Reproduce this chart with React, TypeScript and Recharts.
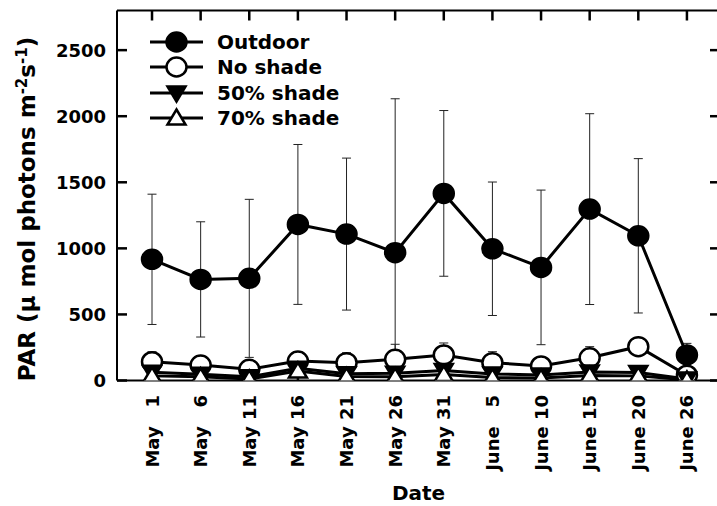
import { LineChart, Line, XAxis, YAxis, ErrorBar, Legend, ReferenceLine } from "recharts";

const dates = [
  "May 1", "May 6", "May 11", "May 16", "May 21", "May 26",
  "May 31", "June 5", "June 10", "June 15", "June 20", "June 26",
];
const outdoor = [917, 765, 773, 1181, 1108, 967, 1416, 997, 856, 1297, 1095, 193];
const outdoorSd = [493, 436, 598, 605, 575, 1165, 627, 505, 585, 722, 584, 88];
const noShade = [142, 117, 85, 147, 135, 160, 193, 135, 110, 172, 256, 40];
const noShadeSd = [76, 55, 40, 71, 75, 114, 91, 83, 50, 84, 60, 30];
const shade50 = [62, 48, 28, 92, 52, 55, 75, 50, 42, 65, 60, 12];
const shade50Sd = [15, 12, 10, 20, 15, 15, 18, 14, 12, 16, 15, 6];
const shade70 = [35, 28, 12, 72, 30, 28, 45, 22, 18, 38, 35, 5];
const shade70Sd = [10, 8, 6, 15, 9, 8, 12, 8, 7, 10, 10, 4];
const yTicks = [0, 500, 1000, 1500, 2000, 2500];

const FONT = "'DejaVu Sans', sans-serif";
const X_DOMAIN = [-0.72, 11.68];
const Y_DOMAIN = [0, 2800];

// chart frame
const WIDTH = 730;
const HEIGHT = 506;
const MARGIN = { top: 10.5, right: 10, left: 57, bottom: 25.5 };
const Y_AXIS_WIDTH = 60;
const X_AXIS_HEIGHT = 100;
const PLOT_W = WIDTH - MARGIN.left - MARGIN.right - Y_AXIS_WIDTH;
const PLOT_H = HEIGHT - MARGIN.top - MARGIN.bottom - X_AXIS_HEIGHT;

// inward tick marks, converted from px to axis units
const TICK = 10;
const TICK_X = (TICK * (X_DOMAIN[1] - X_DOMAIN[0])) / PLOT_W;
const TICK_Y = (TICK * (Y_DOMAIN[1] - Y_DOMAIN[0])) / PLOT_H;

const xTicks = dates.map((_, i) => i);

// error bars never reach below zero
const err = (v: number, sd: number) => [Math.min(sd, v), sd];

const data = dates.map((d, i) => ({
  i,
  outdoor: outdoor[i],
  outdoorErr: err(outdoor[i], outdoorSd[i]),
  noShade: noShade[i],
  noShadeErr: err(noShade[i], noShadeSd[i]),
  shade50: shade50[i],
  shade50Err: err(shade50[i], shade50Sd[i]),
  shade70: shade70[i],
  shade70Err: err(shade70[i], shade70Sd[i]),
}));

type Shape = "circle" | "down" | "up";

const series: { key: string; name: string; shape: Shape; fill: string }[] = [
  { key: "outdoor", name: "Outdoor", shape: "circle", fill: "#000" },
  { key: "noShade", name: "No shade", shape: "circle", fill: "#fff" },
  { key: "shade50", name: "50% shade", shape: "down", fill: "#000" },
  { key: "shade70", name: "70% shade", shape: "up", fill: "#fff" },
];

function Marker({ shape, fill, cx, cy }: { shape: Shape; fill: string; cx: number; cy: number }) {
  if (shape === "circle") {
    return <ellipse cx={cx} cy={cy} rx={10} ry={9.5} fill={fill} stroke="#000" strokeWidth={2.5} />;
  }
  const pts =
    shape === "up"
      ? `${cx},${cy - 8.5} ${cx + 9},${cy + 6.5} ${cx - 9},${cy + 6.5}`
      : `${cx},${cy + 8.5} ${cx + 9},${cy - 6.5} ${cx - 9},${cy - 6.5}`;
  return <polygon points={pts} fill={fill} stroke="#000" strokeWidth={2.5} strokeLinejoin="miter" />;
}

const dateLabel = (i: number) => {
  const [m, d] = dates[i].split(" ");
  return d.length === 1 ? `${m} \u2007${d}` : dates[i];
};

function DateTick({ x, y, payload }: any) {
  return (
    <text
      x={0}
      y={0}
      transform={`translate(${Number(x) + 6.5},${Number(y) + 14.5}) rotate(-90)`}
      textAnchor="end"
      fontFamily={FONT}
      fontWeight="bold"
      fontSize={18}
      fill="#000"
    >
      {dateLabel(payload.value)}
    </text>
  );
}

function ValueTick({ x, y, payload }: any) {
  return (
    <text
      x={Number(x) - 11}
      y={y}
      dy={6.5}
      textAnchor="end"
      fontFamily={FONT}
      fontWeight="bold"
      fontSize={18}
      fill="#000"
    >
      {payload.value}
    </text>
  );
}

function LegendBox() {
  return (
    <div style={{ fontFamily: FONT, fontWeight: "bold", fontSize: 20, color: "#000" }}>
      {series.map((s) => (
        <div key={s.key} style={{ display: "flex", alignItems: "center", height: 25.3 }}>
          <svg width={53} height={24} style={{ marginRight: 14 }}>
            <line x1={0} y1={12} x2={53} y2={12} stroke="#000" strokeWidth={3} />
            <Marker shape={s.shape} fill={s.fill} cx={26.5} cy={12} />
          </svg>
          <span style={{ lineHeight: "24px" }}>{s.name}</span>
        </div>
      ))}
    </div>
  );
}

const axisLine = { stroke: "#000", strokeWidth: 2 };
const tickMark = { stroke: "#000", strokeWidth: 2.5, ifOverflow: "visible" as const };

export default function App() {
  const [x0, x1] = X_DOMAIN;
  const [y0, y1] = Y_DOMAIN;
  return (
    <div
      style={{
        position: "fixed",
        left: 0,
        top: 0,
        width: 717,
        height: 506,
        overflow: "hidden",
        background: "#fff",
      }}
    >
      <LineChart width={WIDTH} height={HEIGHT} data={data} margin={MARGIN}>
        <XAxis
          dataKey="i"
          type="number"
          domain={X_DOMAIN}
          allowDataOverflow
          ticks={xTicks}
          interval={0}
          height={X_AXIS_HEIGHT}
          axisLine={axisLine}
          tickLine={false}
          tickSize={0}
          tickMargin={0}
          tick={<DateTick />}
          label={({ viewBox }: any) => (
            <text
              x={viewBox.x + viewBox.width / 2}
              y={500}
              textAnchor="middle"
              fontFamily={FONT}
              fontWeight="bold"
              fontSize={20}
              fill="#000"
            >
              Date
            </text>
          )}
        />
        <YAxis
          type="number"
          domain={Y_DOMAIN}
          allowDataOverflow
          ticks={yTicks}
          interval={0}
          width={Y_AXIS_WIDTH}
          axisLine={axisLine}
          tickLine={false}
          tickSize={0}
          tickMargin={0}
          tick={<ValueTick />}
          label={() => (
            <text
              x={0}
              y={0}
              transform="translate(35,209) rotate(-90)"
              textAnchor="middle"
              fontFamily={FONT}
              fontWeight="bold"
              fontSize={23}
              fill="#000"
            >
              PAR (µ mol photons m
              <tspan dy={-8} fontSize={15}>-2</tspan>
              <tspan dy={8}>s</tspan>
              <tspan dy={-8} fontSize={15}>-1</tspan>
              <tspan dy={8}>)</tspan>
            </text>
          )}
        />
        <ReferenceLine y={y1} stroke="#000" strokeWidth={2} />
        <ReferenceLine x={x1} stroke="#000" strokeWidth={2} />
        {xTicks.map((t) => (
          <ReferenceLine key={`b${t}`} {...tickMark} segment={[{ x: t, y: y0 }, { x: t, y: y0 + TICK_Y }]} />
        ))}
        {xTicks.map((t) => (
          <ReferenceLine key={`t${t}`} {...tickMark} segment={[{ x: t, y: y1 }, { x: t, y: y1 - TICK_Y }]} />
        ))}
        {yTicks.map((t) => (
          <ReferenceLine key={`l${t}`} {...tickMark} segment={[{ x: x0, y: t }, { x: x0 + TICK_X, y: t }]} />
        ))}
        {yTicks.map((t) => (
          <ReferenceLine key={`r${t}`} {...tickMark} segment={[{ x: x1, y: t }, { x: x1 - TICK_X, y: t }]} />
        ))}
        <Legend
          layout="vertical"
          align="center"
          verticalAlign="middle"
          wrapperStyle={{ left: 150, top: 29.5, width: "auto" }}
          content={() => <LegendBox />}
        />
        {series.map((s) => (
          <Line
            key={s.key}
            dataKey={s.key}
            name={s.name}
            stroke="#000"
            strokeWidth={3}
            isAnimationActive={false}
            dot={(p: any) => <Marker key={`${s.key}-${p.index}`} shape={s.shape} fill={s.fill} cx={p.cx} cy={p.cy} />}
            activeDot={false}
          >
            <ErrorBar dataKey={`${s.key}Err`} direction="y" width={4.5} stroke="#222" strokeWidth={1} />
          </Line>
        ))}
      </LineChart>
    </div>
  );
}
